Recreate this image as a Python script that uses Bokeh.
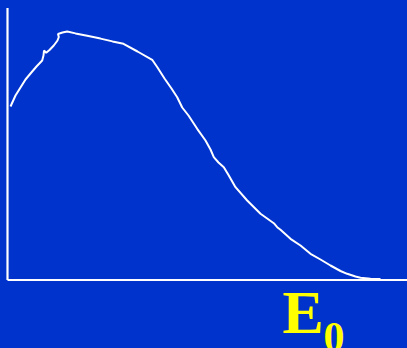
from bokeh.plotting import figure
from bokeh.models import Range1d, Label, ColumnDataSource
from bokeh.embed import file_html
from bokeh.resources import INLINE

# Spectrum (arbitrary energy units vs arbitrary intensity units)
energy = [3, 8, 13, 18, 23, 29, 34.7, 36, 36.5, 38.7, 42, 46.3, 50, 51.3, 50.5, 55,
          59.7, 68, 79.7, 93, 105, 116, 130, 144.7, 150, 157, 164, 169.7, 174.7, 181,
          189.7, 198, 203, 206.3, 211, 216.3, 221.3, 228, 239.7, 253, 266.3, 269.7,
          273, 283, 293, 303, 313, 323, 333, 339.7, 348, 353, 363, 373]
intensity = [173.5, 184.5, 192.5, 200.5, 206.5, 213.5, 219.5, 224.5, 229.5, 227.2,
             230, 234.5, 239.5, 243, 246, 247.5, 248.5, 246.6, 244.2, 241.4, 238.6,
             236.2, 228.5, 220.2, 212.5, 201.5, 191.5, 182.8, 172.5, 164.5, 151.2,
             139.5, 130.5, 122.8, 117.5, 112.8, 104.5, 92.8, 79.5, 66.2, 56.8, 52.8,
             50.2, 41.2, 34.5, 26.2, 20.5, 14.5, 9, 6.2, 3.5, 2.2, 1.2, 1]

axis_label = "E"
axis_label_sub = "0"

BG = "#0033CC"
W, H = 407, 348

p = figure(width=W, height=H, output_backend="svg", toolbar_location=None,
           x_range=Range1d(-7, 400), y_range=Range1d(-68.5, 279.5),
           min_border=0, min_border_left=0, min_border_right=0,
           min_border_top=0, min_border_bottom=0)
p.axis.visible = False
p.grid.visible = False
p.outline_line_color = None
p.background_fill_color = BG
p.border_fill_color = BG

# axis lines
x_end = p.x_range.end
y_top = 272
p.segment(x0=[0, 0], y0=[0, 0], x1=[x_end, 0], y1=[0, y_top],
          line_color="white", line_width=2.2)

src = ColumnDataSource(dict(x=energy, y=intensity))
p.line("x", "y", source=src, line_color="white", line_width=2)

p.add_layout(Label(x=275, y=-31.5, text=axis_label, text_color="#FFFF00",
                   text_font="Liberation Serif", text_font_style="bold",
                   text_font_size="62px", text_baseline="alphabetic"))
p.add_layout(Label(x=316, y=-56.5, text=axis_label_sub, text_color="#FFFF00",
                   text_font="Liberation Serif", text_font_style="bold",
                   text_font_size="42px", text_baseline="alphabetic"))

html = file_html(p, INLINE)
html = html.replace("</head>",
                    "<style>html,body{margin:0;padding:0;overflow:hidden;background:%s;}</style></head>" % BG, 1)
open("out.html", "w").write(html)
